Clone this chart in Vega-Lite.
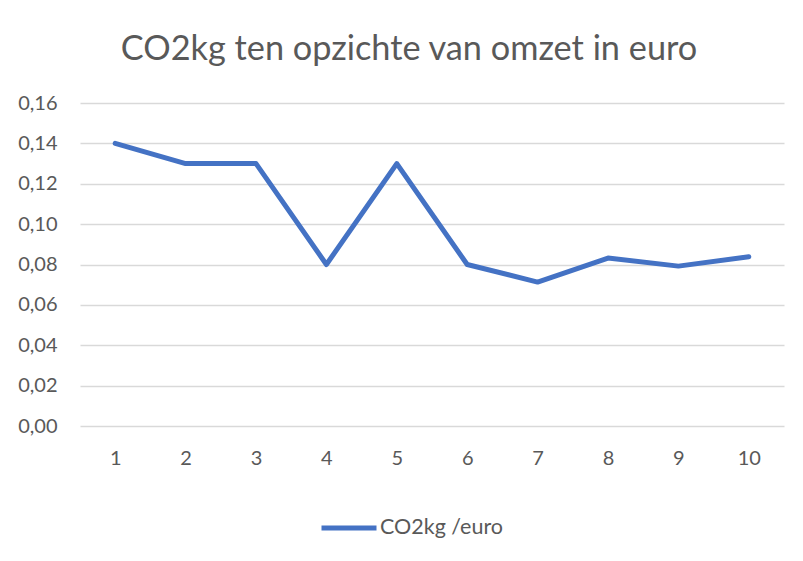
{
  "$schema": "https://vega.github.io/schema/vega-lite/v6.json",
  "width": 704,
  "height": 323,
  "autosize": {"type": "none"},
  "padding": {"left": 80, "top": 103, "right": 19, "bottom": 135},
  "background": "white",
  "title": {
    "text": "CO2kg  ten opzichte van omzet in euro",
    "anchor": "middle",
    "frame": "group",
    "dx": -23,
    "offset": -1,
    "baseline": "alphabetic",
    "font": "Lato",
    "fontSize": 34.3,
    "fontWeight": "normal",
    "color": "#595959"
  },
  "data": {
    "values": [
      {"x": 1, "v": 0.14, "series": "CO2kg /euro"},
      {"x": 2, "v": 0.13, "series": "CO2kg /euro"},
      {"x": 3, "v": 0.13, "series": "CO2kg /euro"},
      {"x": 4, "v": 0.08, "series": "CO2kg /euro"},
      {"x": 5, "v": 0.13, "series": "CO2kg /euro"},
      {"x": 6, "v": 0.08, "series": "CO2kg /euro"},
      {"x": 7, "v": 0.0713, "series": "CO2kg /euro"},
      {"x": 8, "v": 0.0832, "series": "CO2kg /euro"},
      {"x": 9, "v": 0.0792, "series": "CO2kg /euro"},
      {"x": 10, "v": 0.0838, "series": "CO2kg /euro"}
    ]
  },
  "mark": {"type": "line", "strokeWidth": 5, "strokeCap": "round", "strokeJoin": "round"},
  "encoding": {
    "x": {
      "field": "x",
      "type": "ordinal",
      "scale": {"type": "point", "padding": 0.5},
      "axis": {"title": null, "labelAngle": 0, "labelPadding": 22, "grid": false}
    },
    "y": {
      "field": "v",
      "type": "quantitative",
      "scale": {"domain": [0, 0.16], "nice": false},
      "axis": {"title": null, "values": [0, 0.02, 0.04, 0.06, 0.08, 0.1, 0.12, 0.14, 0.16], "format": ".2f", "labelPadding": 23, "grid": true}
    },
    "color": {
      "field": "series",
      "type": "nominal",
      "scale": {"range": ["#4472C4"]},
      "legend": {
        "title": null,
        "orient": "none",
        "direction": "horizontal",
        "legendX": 239,
        "legendY": 395,
        "symbolType": "stroke",
        "symbolSize": 3025,
        "symbolStrokeWidth": 5,
        "labelOffset": 1,
        "labelFont": "Lato",
        "labelFontSize": 21.5,
        "labelColor": "#595959",
        "padding": 0
      }
    }
  },
  "config": {
    "locale": {"number": {"decimal": ",", "thousands": ".", "grouping": [3], "currency": ["€", ""]}},
    "view": {"stroke": null},
    "axis": {
      "domain": false,
      "ticks": false,
      "gridColor": "#D9D9D9",
      "gridWidth": 1.3,
      "labelFont": "Lato",
      "labelFontSize": 20,
      "labelColor": "#595959"
    }
  }
}
